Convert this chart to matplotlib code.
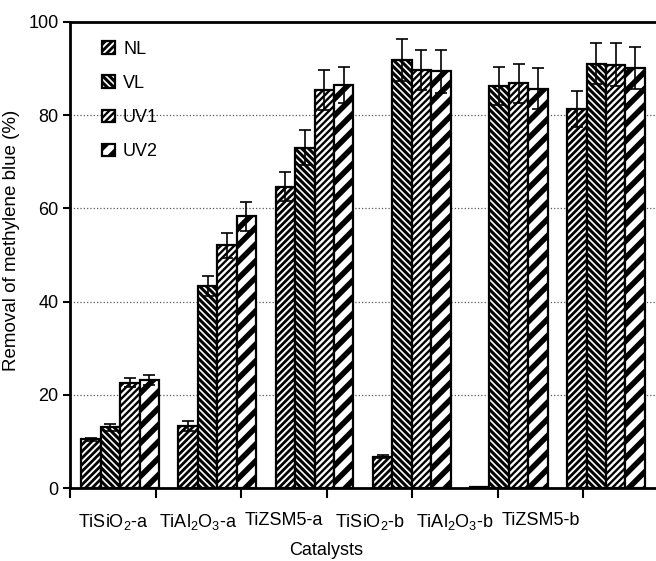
import numpy as np
import matplotlib
matplotlib.use('Agg')
from matplotlib import pyplot as plt

plt.rcParams['font.family'] = ['Liberation Sans', 'DejaVu Sans']
plt.rcParams['mathtext.default'] = 'regular'
plt.rcParams['hatch.color'] = 'black'
plt.rcParams['hatch.linewidth'] = 2.0

catalysts = ['TiSiO$_2$-a', 'TiAl$_2$O$_3$-a', 'TiZSM5-a',
             'TiSiO$_2$-b', 'TiAl$_2$O$_3$-b', 'TiZSM5-b']
series = ['NL', 'VL', 'UV1', 'UV2']

nl = [10.5, 13.3, 64.6, 6.7, 0.3, 81.3]
vl = [13.0, 43.3, 73.0, 91.8, 86.3, 91.0]
uv1 = [22.6, 52.1, 85.4, 89.7, 86.8, 90.8]
uv2 = [23.2, 58.3, 86.5, 89.4, 85.7, 90.1]

nl_err = [0.3, 1.0, 3.1, 0.3, 0.0, 3.8]
vl_err = [0.8, 2.1, 3.8, 4.5, 4.1, 4.4]
uv1_err = [1.0, 2.7, 4.3, 4.3, 4.2, 4.6]
uv2_err = [1.0, 3.1, 3.8, 4.6, 4.3, 4.6]

values = [nl, vl, uv1, uv2]
errors = [nl_err, vl_err, uv1_err, uv2_err]
hatches = ['/////', '\\\\\\\\\\', '/////', '//']
hatch_lw = [2.0, 2.2, 1.7, 4.0]


def set_hatch_lw(patch, lw):
    # hatch width per bar where matplotlib allows it
    if hasattr(patch, 'set_hatch_linewidth'):
        patch.set_hatch_linewidth(lw)


fig = plt.figure(figsize=(6.56, 5.61), dpi=100)
ax = fig.add_axes([0.107, 0.130, 0.893, 0.831])

x = np.arange(len(catalysts))
w = 0.2
for i in range(4):
    bars = ax.bar(x + (i - 1.5) * w, values[i], w, color='white', edgecolor='black',
                  linewidth=1.6, hatch=hatches[i], label=series[i], zorder=2)
    for b in bars:
        set_hatch_lw(b, hatch_lw[i])
    ax.errorbar(x + (i - 1.5) * w, values[i], yerr=errors[i], fmt='none',
                ecolor='black', elinewidth=1.2, capsize=4, capthick=1.2, zorder=3)

ax.set_xlim(-0.514, 5.514)
ax.set_ylim(0, 100)

# category ticks sit on a slightly narrower grid than the bar groups
step = 0.88
ax.set_xticks(-0.514 + step * np.arange(7))
ax.set_xticklabels([])
ax.set_xticks(-0.514 + step / 2 + step * np.arange(6), minor=True)
ax.set_xticklabels(catalysts, minor=True, fontsize=13)
ax.tick_params(axis='x', which='major', direction='out', length=7, width=1.5)
ax.tick_params(axis='x', which='minor', length=0, pad=17)
ax.set_yticks([0, 20, 40, 60, 80, 100])
ax.tick_params(axis='y', direction='out', length=5, width=1.5, labelsize=13)

ax.yaxis.grid(True, linestyle=':', color='0.35', linewidth=0.9, zorder=0)
ax.set_axisbelow(True)

for s in ['left', 'bottom', 'top']:
    ax.spines[s].set_linewidth(2)
ax.spines['right'].set_visible(False)

ax.set_ylabel('Removal of methylene blue (%)', fontsize=13.5)
ax.yaxis.set_label_coords(-0.085, 0.532)
ax.set_xlabel('Catalysts', fontsize=13)
ax.xaxis.set_label_coords(0.4377, -0.115)

leg = ax.legend(loc='upper left', frameon=False, fontsize=13, handlelength=0.7,
                handleheight=0.7, labelspacing=0.95, handletextpad=0.45,
                bbox_to_anchor=(0.027, 0.994))
for h, lw in zip(leg.legend_handles, hatch_lw):
    set_hatch_lw(h, lw)

fig.savefig('out.png', dpi=100)
